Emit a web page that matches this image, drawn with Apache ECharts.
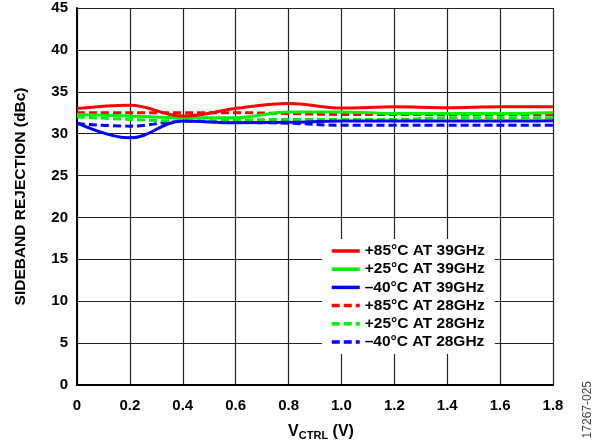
<!DOCTYPE html>
<html><head><meta charset="utf-8">
<script src="https://cdn.jsdelivr.net/npm/echarts@6/dist/echarts.min.js"></script>
<style>html,body{margin:0;padding:0;background:#fff}#c{width:592px;height:446px}</style>
</head><body><div id="c"></div>
<script>
const xVals = [0, 0.2, 0.4, 0.6, 0.8, 1.0, 1.2, 1.4, 1.6, 1.8];
const xTicks = ['0','0.2','0.4','0.6','0.8','1.0','1.2','1.4','1.6','1.8'];
const p85_39 = [33.0, 33.4, 32.1, 33.0, 33.6, 33.05, 33.2, 33.1, 33.2, 33.2];
const p25_39 = [32.3, 32.1, 31.9, 31.9, 32.6, 32.6, 32.4, 32.4, 32.4, 32.5];
const m40_39 = [31.3, 29.5, 31.5, 31.3, 31.35, 31.5, 31.5, 31.5, 31.5, 31.55];
const p85_28 = [32.5, 32.5, 32.5, 32.5, 32.4, 32.3, 32.3, 32.3, 32.3, 32.3];
const p25_28 = [32.0, 31.7, 31.5, 31.6, 31.7, 31.7, 31.7, 31.9, 31.9, 31.9];
const m40_28 = [31.2, 30.9, 31.5, 31.35, 31.25, 31.0, 31.0, 31.0, 31.0, 31.0];
const names = ['+85°C AT 39GHz','+25°C AT 39GHz','\u201340°C AT 39GHz','+85°C AT 28GHz','+25°C AT 28GHz','\u201340°C AT 28GHz'];
const seriesData = [p85_39, p25_39, m40_39, p85_28, p25_28, m40_28];
const colors = ['#ff0000','#00ee00','#0000ff','#ff0000','#00ee00','#0000ff'];
const dashed = [false,false,false,true,true,true];

const chart = echarts.init(document.getElementById('c'));
const font = 'Liberation Sans, Arial, sans-serif';
chart.setOption({
  animation: false,
  backgroundColor: '#fff',
  grid: {left: 77, top: 8, right: 39, bottom: 54, containLabel: false},
  xAxis: {
    type: 'value', min: 0, max: 1.8, interval: 0.2,
    axisLine: {show: true, onZero: false, lineStyle: {color: '#000', width: 2}},
    axisTick: {show: false},
    splitLine: {show: true, lineStyle: {color: '#222', width: 1.2}},
    axisLabel: {color: '#000', fontFamily: font, fontWeight: 'bold', fontSize: 15, margin: 13,
      formatter: v => xTicks[Math.round(v / 0.2)]},
    name: '{a|V}{b|CTRL}{a| (V)}', nameLocation: 'middle', nameGap: 38,
    nameTextStyle: {padding: [0, 0, 0, 12], rich: {
      a: {fontFamily: font, fontWeight: 'bold', fontSize: 16, color: '#000'},
      b: {fontFamily: font, fontWeight: 'bold', fontSize: 11, color: '#000', verticalAlign: 'bottom', padding: [7,0,0,0]}
    }}
  },
  yAxis: {
    type: 'value', min: 0, max: 45, interval: 5,
    axisLine: {show: true, lineStyle: {color: '#000', width: 2}},
    axisTick: {show: false},
    splitLine: {show: true, lineStyle: {color: '#222', width: 1.2}},
    axisLabel: {color: '#000', fontFamily: font, fontWeight: 'bold', fontSize: 15, margin: 9},
    name: 'SIDEBAND REJECTION (dBc)', nameLocation: 'middle', nameGap: 48,
    nameTextStyle: {color: '#000', fontFamily: font, fontWeight: 'bold', fontSize: 15.5}
  },
  legend: {
    orient: 'vertical', left: 322, top: 239,
    backgroundColor: '#fff', padding: [4, 10, 4, 8],
    itemWidth: 28, itemHeight: 14, itemGap: 2.2,
    itemStyle: {opacity: 0},
    lineStyle: {width: 3.5},
    textStyle: {color: '#000', fontFamily: font, fontWeight: 'bold', fontSize: 15.5, lineHeight: 15},
    data: names
  },
  graphic: [{
    type: 'text', left: 582, top: 381, rotation: Math.PI/2,
    style: {text: '17267-025', fill: '#444', font: '12px ' + font}
  }],
  series: seriesData.map((d, i) => ({
    name: names[i], type: 'line', smooth: 0.4, showSymbol: false, symbol: 'none',
    data: d.map((v, j) => [xVals[j], v]),
    lineStyle: {color: colors[i], width: 3, type: dashed[i] ? [8, 4] : 'solid'},
    itemStyle: {color: colors[i]},
    z: 10 - i
  }))
});
</script></body></html>
